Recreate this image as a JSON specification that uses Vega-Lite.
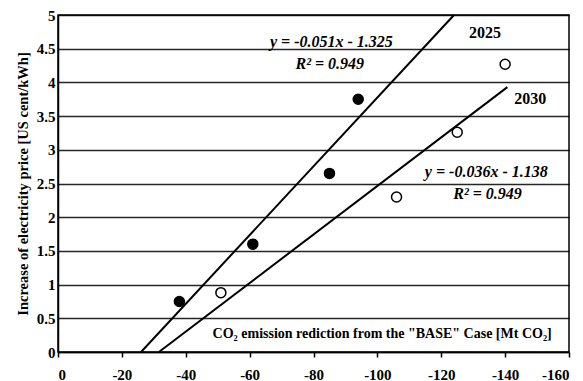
{
  "$schema": "https://vega.github.io/schema/vega-lite/v6.json",
  "width": 511,
  "height": 337,
  "autosize": {"type": "none"},
  "padding": {"left": 58, "top": 15, "right": 14, "bottom": 29},
  "background": "white",
  "config": {
    "font": "Liberation Serif",
    "view": {"stroke": "black", "strokeWidth": 1.5},
    "axis": {
      "labelFont": "Liberation Serif",
      "labelFontWeight": "bold",
      "labelFontSize": 15,
      "labelColor": "black",
      "titleFont": "Liberation Serif",
      "titleFontWeight": "bold",
      "titleColor": "black",
      "domainColor": "black",
      "domainWidth": 1.5,
      "tickColor": "black"
    }
  },
  "datasets": {
    "points": [
      {"year": "2025", "x": -38, "y": 0.75},
      {"year": "2025", "x": -61, "y": 1.6},
      {"year": "2025", "x": -85, "y": 2.65},
      {"year": "2025", "x": -94, "y": 3.75},
      {"year": "2030", "x": -51, "y": 0.88},
      {"year": "2030", "x": -106, "y": 2.3},
      {"year": "2030", "x": -125, "y": 3.26},
      {"year": "2030", "x": -140, "y": 4.27}
    ],
    "lines": [
      {"year": "2025", "x": -26, "y": 0},
      {"year": "2025", "x": -124, "y": 5},
      {"year": "2030", "x": -31.6, "y": 0},
      {"year": "2030", "x": -140.7, "y": 3.93}
    ],
    "years": [
      {"label": "2025", "x": -133.7, "y": 4.73},
      {"label": "2030", "x": -147.9, "y": 3.75}
    ],
    "equations": [
      {"label": "y = -0.051x - 1.325", "x": -85.6, "y": 4.6},
      {"label": "R² = 0.949", "x": -85.1, "y": 4.27},
      {"label": "y = -0.036x - 1.138", "x": -134.1, "y": 2.67},
      {"label": "R² = 0.949", "x": -134.5, "y": 2.34}
    ],
    "xtitle": [
      {"label": "CO₂ emission rediction from the \"BASE\" Case [Mt CO₂]", "x": -101.5, "y": 0.27}
    ]
  },
  "encoding": {
    "x": {
      "field": "x",
      "type": "quantitative",
      "scale": {"domain": [-160, 0], "reverse": true, "nice": false, "zero": false},
      "axis": {
        "values": [-160, -140, -120, -100, -80, -60, -40, -20, 0],
        "labelExpr": "'' + datum.value",
        "title": null,
        "grid": false,
        "tickSize": 5,
        "tickWidth": 1.5,
        "labelPadding": 10
      }
    },
    "y": {
      "field": "y",
      "type": "quantitative",
      "scale": {"domain": [0, 5], "nice": false},
      "axis": {
        "values": [0, 0.5, 1, 1.5, 2, 2.5, 3, 3.5, 4, 4.5, 5],
        "format": "~g",
        "title": "Increase of electricity price [US cent/kWh]",
        "titleFontSize": 14.5,
        "titlePadding": 6,
        "ticks": false,
        "labelPadding": 3,
        "grid": true,
        "gridColor": "black",
        "gridWidth": 1.5,
        "gridOpacity": 0.85
      }
    }
  },
  "layer": [
    {
      "data": {"name": "lines"},
      "mark": {"type": "line", "color": "black", "strokeWidth": 2},
      "encoding": {"detail": {"field": "year"}}
    },
    {
      "data": {"name": "points"},
      "mark": {"type": "point", "shape": "circle", "size": 100, "stroke": "black", "strokeWidth": 1.5, "filled": false, "opacity": 1},
      "encoding": {
        "fill": {
          "field": "year",
          "type": "nominal",
          "scale": {"domain": ["2025", "2030"], "range": ["black", "white"]},
          "legend": null
        }
      }
    },
    {
      "data": {"name": "years"},
      "mark": {"type": "text", "font": "Liberation Serif", "fontWeight": "bold", "fontSize": 16, "color": "black"},
      "encoding": {"text": {"field": "label"}}
    },
    {
      "data": {"name": "equations"},
      "mark": {"type": "text", "font": "Liberation Serif", "fontWeight": "bold", "fontStyle": "italic", "fontSize": 16, "color": "black"},
      "encoding": {"text": {"field": "label"}}
    },
    {
      "data": {"name": "xtitle"},
      "mark": {"type": "text", "font": "Liberation Serif", "fontWeight": "bold", "fontSize": 14, "color": "black"},
      "encoding": {"text": {"field": "label"}}
    }
  ]
}
